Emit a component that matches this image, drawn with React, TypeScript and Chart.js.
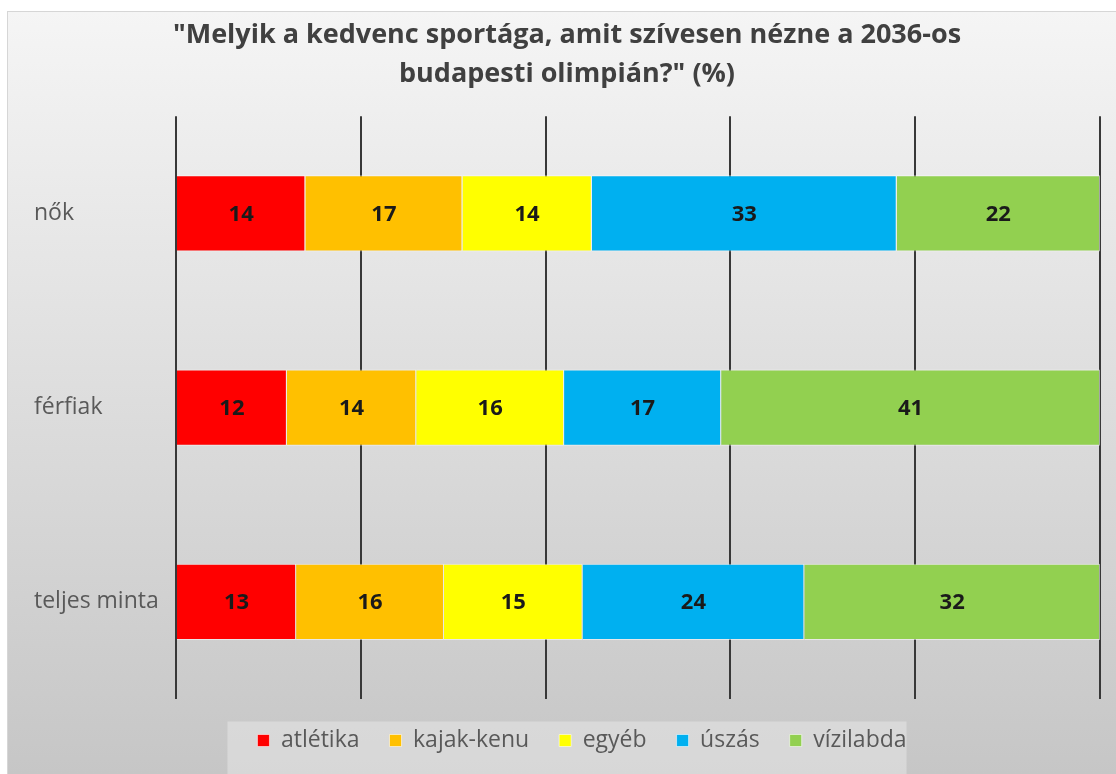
import React, { useEffect, useRef } from "react";
import { Chart, registerables } from "chart.js";

Chart.register(...registerables);

const categories = ["nők", "férfiak", "teljes minta"];
const seriesNames = ["atlétika", "kajak-kenu", "egyéb", "úszás", "vízilabda"];
const seriesColors = ["#FF0000", "#FFC000", "#FFFF00", "#00B0F0", "#92D050"];
const atletika = [14, 12, 13];
const kajakKenu = [17, 14, 16];
const egyeb = [14, 16, 15];
const uszas = [33, 17, 24];
const vizilabda = [22, 41, 32];
const titleLines = ['"Melyik a kedvenc sportága, amit szívesen nézne a 2036-os', 'budapesti olimpián?" (%)'];

const FONT = "'Open Sans', 'Noto Sans', sans-serif";

const valueLabels = {
  id: "valueLabels",
  afterDatasetsDraw(chart: any) {
    const ctx = chart.ctx;
    ctx.save();
    ctx.font = `bold 22px ${FONT}`;
    ctx.fillStyle = "#1a1a1a";
    ctx.textAlign = "center";
    ctx.textBaseline = "middle";
    chart.data.datasets.forEach((ds: any, di: number) => {
      const meta = chart.getDatasetMeta(di);
      meta.data.forEach((el: any, i: number) => {
        const p = el.getCenterPoint();
        ctx.fillText(String(ds.data[i]), p.x, p.y + 1);
      });
    });
    ctx.restore();
  },
};

const LEGEND_SHIFT = 15;

const legendBox = {
  id: "legendBox",
  afterLayout(chart: any) {
    const lg = chart.legend;
    if (!lg) return;
    lg.left += LEGEND_SHIFT;
    lg.right += LEGEND_SHIFT;
    (lg.legendHitBoxes || []).forEach((h: any) => {
      h.left += LEGEND_SHIFT;
    });
  },
  beforeDraw(chart: any) {
    const lg = chart.legend;
    if (!lg || !lg.legendHitBoxes || !lg.legendHitBoxes.length) return;
    const hb = lg.legendHitBoxes;
    const first = hb[0];
    const last = hb[hb.length - 1];
    const cy = first.top + first.height / 2;
    const ctx = chart.ctx;
    ctx.save();
    ctx.fillStyle = "rgba(230,230,230,0.55)";
    ctx.fillRect(first.left - 30, cy - 19, last.left + last.width - first.left + 30, chart.height - (cy - 19));
    ctx.restore();
  },
};

export default function App() {
  const ref = useRef<HTMLCanvasElement>(null);
  useEffect(() => {
    document.body.style.margin = "0";
    const series = [atletika, kajakKenu, egyeb, uszas, vizilabda];
    const chart = new Chart(ref.current!, {
      type: "bar",
      data: {
        labels: categories,
        datasets: series.map((d, i) => ({
          label: seriesNames[i],
          data: d,
          backgroundColor: seriesColors[i],
          borderColor: "rgba(255,255,255,0.55)",
          borderWidth: 1,
          categoryPercentage: 1,
          barPercentage: 0.393,
        })),
      },
      options: {
        indexAxis: "y",
        animation: false,
        responsive: false,
        maintainAspectRatio: false,
        layout: { padding: { left: 26, right: 16, top: 0, bottom: 12 } },
        scales: {
          x: {
            stacked: true,
            min: 0,
            max: 100,
            ticks: { display: false, stepSize: 20 },
            grid: { color: "#383838", lineWidth: 2, drawTicks: false },
            border: { display: false },
          },
          y: {
            stacked: true,
            ticks: {
              color: "#595959",
              font: { family: FONT, size: 23 },
              crossAlign: "far",
              padding: 10,
            },
            grid: { display: false },
            border: { display: false },
            afterFit: (scale: any) => {
              scale.width = 142;
            },
          },
        },
        plugins: {
          title: {
            display: true,
            text: titleLines,
            color: "#404040",
            font: { family: FONT, size: 27, weight: "bold", lineHeight: 1.45 },
            padding: { top: 4, bottom: 22 },
          },
          legend: {
            position: "bottom",
            labels: {
              boxWidth: 12,
              boxHeight: 12,
              color: "#595959",
              font: { family: FONT, size: 23 },
              padding: 30,
            },
          },
          tooltip: { enabled: false },
        },
      },
      plugins: [legendBox, valueLabels],
    });
    return () => chart.destroy();
  }, []);
  return (
    <div
      style={{
        position: "absolute",
        left: 7,
        top: 11,
        width: 1109,
        height: 763,
        background: "linear-gradient(#f5f5f5, #c6c6c6)",
        borderTop: "1px solid #d6d6d6",
        borderLeft: "1px solid #d6d6d6",
        boxSizing: "border-box",
      }}
    >
      <canvas ref={ref} width={1108} height={762} style={{ display: "block" }} />
    </div>
  );
}
